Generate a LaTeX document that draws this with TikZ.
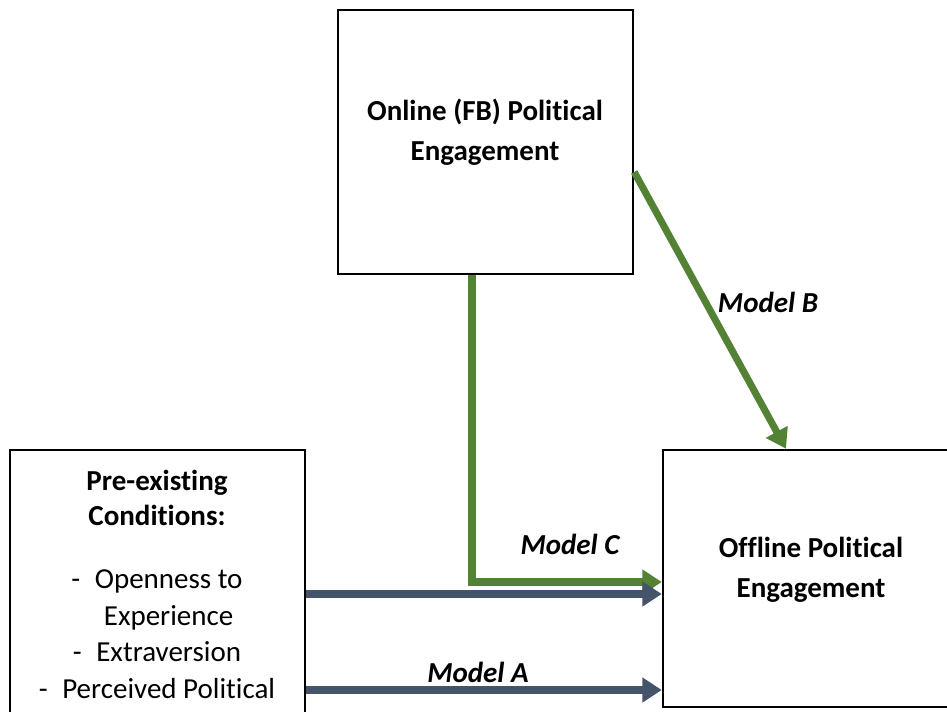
\documentclass[tikz,border=0pt]{standalone}
\usepackage{fontspec}
\setmainfont{Carlito}[Ligatures=NoCommon]
\usetikzlibrary{arrows.meta}
\definecolor{modelgreen}{HTML}{548235}
\definecolor{modelblue}{HTML}{44546A}

\begin{document}
\begin{tikzpicture}[x=0.02cm,y=-0.02cm,
    box/.style={draw=black,line width=1.4pt,inner sep=0pt,rectangle},
    txt/.style={align=center,font=\fontsize{16.5}{22}\selectfont},
    mlabel/.style={font=\fontsize{16.5}{20}\selectfont\bfseries\itshape},
    greenarr/.style={draw=modelgreen,line width=4pt,-{Triangle[length=11pt,width=13.5pt]}},
    bluearr/.style={draw=modelblue,line width=4pt,-{Triangle[length=11pt,width=13.5pt]}}]
        \useasboundingbox (0,0) rectangle (947,711);
        \clip (0,0) rectangle (947,711);
        \node[box,minimum width=5.9cm,minimum height=5.28cm] (online) at (485.5,142) {};
        \node[box,minimum width=5.9cm,minimum height=6.2cm]  (pre)    at (157.5,605) {};
        \node[box,minimum width=5.92cm,minimum height=5.14cm] (off)   at (811,578.5) {};

        \node[txt,font=\fontsize{16.5}{22.5}\selectfont\bfseries] (onlinetxt) at (485,132) {Online (FB) Political\\Engagement};
        \node[txt,font=\fontsize{16.5}{22.5}\selectfont\bfseries] (offtxt)    at (811,570) {Offline Political\\Engagement};
        \node[txt,font=\fontsize{16.5}{20}\selectfont\bfseries]   (pretitle)  at (157,498) {Pre-existing\\Conditions:};
        \node[txt,font=\fontsize{16.5}{20.8}\selectfont]          (prelist)   at (157,634)
            {-\enspace Openness to\\\hspace{0.8em}Experience\\-\enspace Extraversion\\-\enspace Perceived Political};

        \draw[greenarr,line join=miter] (472,0 |- online.south) -- (472,582) -- (off.west |- 0,582);
        \draw[greenarr] (online.east |- 0,172) -- (786,0 |- off.north);
        \draw[bluearr] (pre.east |- 0,594) -- (off.west |- 0,594);
        \draw[bluearr] (pre.east |- 0,690) -- (off.west |- 0,690);

        \node[mlabel] (modelc) at (570,544) {Model C};
        \node[mlabel] (modela) at (478,672) {Model A};
        \node[mlabel] (modelb) at (768,302) {Model B};
\end{tikzpicture}
\end{document}
